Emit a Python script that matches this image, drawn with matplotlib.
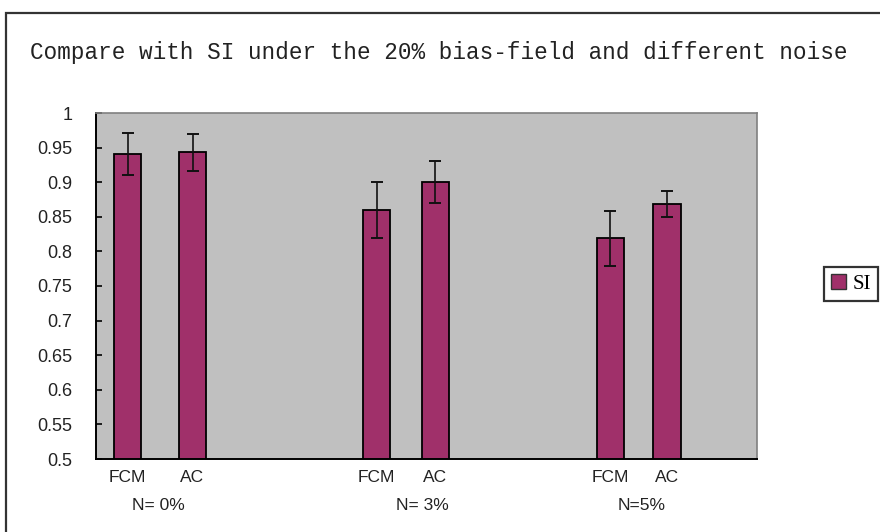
import matplotlib
matplotlib.use("Agg")
import matplotlib.pyplot as plt
from matplotlib.patches import Rectangle, Patch

# ---- data ----
groups = ["N= 0%", "N= 3%", "N=5%"]
methods = ["FCM", "AC"]
si_values = [0.941, 0.943, 0.860, 0.900, 0.819, 0.868]
si_errors = [0.030, 0.027, 0.040, 0.030, 0.040, 0.019]
yticks = [0.5, 0.55, 0.6, 0.65, 0.7, 0.75, 0.8, 0.85, 0.9, 0.95, 1]
ytick_labels = ["0.5", "0.55", "0.6", "0.65", "0.7", "0.75", "0.8", "0.85", "0.9", "0.95", "1"]
title = "Compare with SI under the 20% bias-field and different noise"
legend_label = "SI"

# ---- layout ----
W, H = 880, 532
fig = plt.figure(figsize=(W / 100, H / 100), dpi=100)
fig.patch.set_facecolor("white")

ax_l, ax_r, ax_t, ax_b = 96, 757, 113, 459
ax = fig.add_axes([ax_l / W, 1 - ax_b / H, (ax_r - ax_l) / W, (ax_b - ax_t) / H])
ax.set_facecolor("#C0C0C0")

bar_color = "#A0306A"
group_centers = [0.985, 4.77, 8.35]
offsets = [-0.5, 0.5, -0.45, 0.45, -0.435, 0.435]
positions = []
for gi, gc in enumerate(group_centers):
    for mi in range(len(methods)):
        positions.append(gc + offsets[gi * 2 + mi])

bar_w = 0.42
ax.bar(positions, si_values, width=bar_w, bottom=0, color=bar_color,
       edgecolor="black", linewidth=1.3, zorder=2)
ax.errorbar(positions, si_values, yerr=si_errors, fmt="none", ecolor="#111111",
            elinewidth=1.2, capsize=4.5, capthick=1.4, zorder=3)

ax.set_xlim(0, (ax_r - ax_l) / 65)
ax.set_ylim(0.5, 1.0)
ax.set_yticks(yticks)
ax.set_yticklabels(ytick_labels, fontsize=13, family="Liberation Sans", color="#222222")
ax.tick_params(axis="y", direction="in", length=4, width=1.2, pad=17)
ax.set_xticks([])

for s in ["top", "right"]:
    ax.spines[s].set_color("#808080")
    ax.spines[s].set_linewidth(1.2)
for s in ["left", "bottom"]:
    ax.spines[s].set_color("black")
    ax.spines[s].set_linewidth(1.4)

# category labels
label_y = -(478 - ax_b) / (ax_b - ax_t)
for i, x in enumerate(positions):
    ax.text(x, label_y, methods[i % 2], transform=ax.get_xaxis_transform(),
            ha="center", va="center", fontsize=12.5, family="Liberation Sans",
            color="#222222")
group_label_dx = [-0.02, 0.25, 0.05]
for gi, gc in enumerate(group_centers):
    ax.text(gc + group_label_dx[gi], -(505 - ax_b) / (ax_b - ax_t), groups[gi],
            transform=ax.get_xaxis_transform(), ha="center", va="center",
            fontsize=12.5, family="Liberation Sans", color="#222222")

# title
fig.text(30 / W, 1 - 52 / H, title, ha="left", va="center",
         fontsize=16.3, family="Liberation Mono", color="#222222")

# legend
handle = Patch(facecolor=bar_color, edgecolor="#333333", linewidth=1.0)
leg = fig.legend([handle], [legend_label], loc="upper left",
                 bbox_to_anchor=(824 / W, 1 - 267 / H),
                 prop={"family": "Liberation Serif", "size": 15},
                 frameon=True, fancybox=False, handlelength=0.7, handleheight=0.7,
                 handletextpad=0.3, borderpad=0.35, borderaxespad=0)
leg.get_frame().set_edgecolor("black")
leg.get_frame().set_linewidth(1.6)

# outer frame
fig.patches.append(Rectangle((6 / W, -0.2), 1.5, 0.2 + 1 - 13 / H,
                             transform=fig.transFigure, fill=False,
                             edgecolor="#333333", linewidth=1.6))

fig.savefig("out.png", dpi=100)
